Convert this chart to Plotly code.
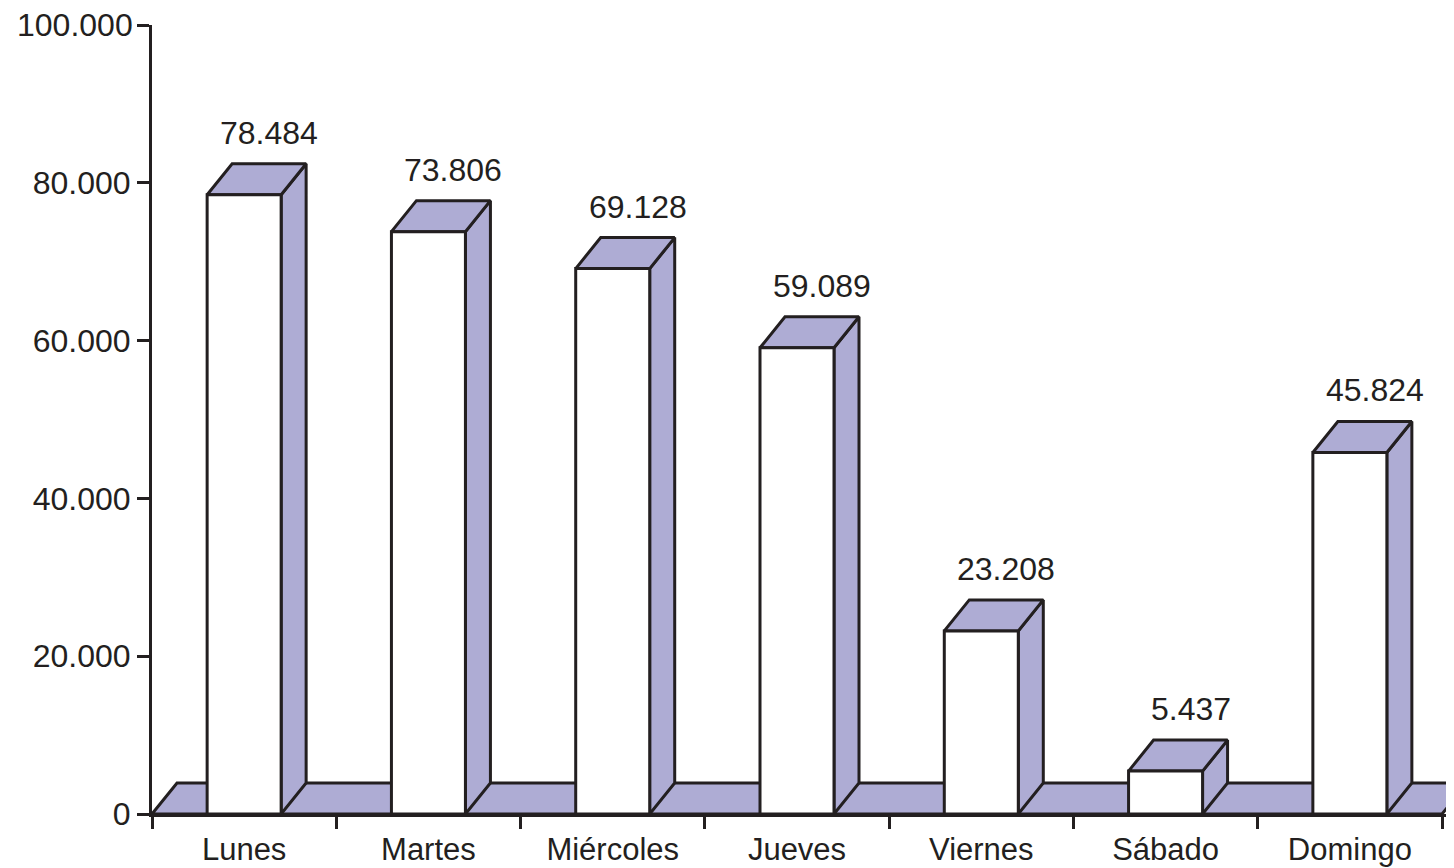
import plotly.graph_objects as go

categories = ["Lunes", "Martes", "Miércoles", "Jueves", "Viernes", "Sábado", "Domingo"]
values = [78484, 73806, 69128, 59089, 23208, 5437, 45824]
value_labels = ["78.484", "73.806", "69.128", "59.089", "23.208", "5.437", "45.824"]
y_tickvals = [0, 20000, 40000, 60000, 80000, 100000]
y_ticktext = ["0", "20.000", "40.000", "60.000", "80.000", "100.000"]

LAV = "#AEACD4"
INK = "#231F20"
FONT = "Liberation Sans, Arial, Helvetica, sans-serif"

# geometry (page has an 8px body margin)
OFF = 8
W, H = 1454 - OFF, 868 - OFF
ml, mr, mt, mb = 152 - OFF, 0, 25 - OFF, 868 - 814
n = len(categories)
px_per_x = (1442 - 152) / n
x_range = [-0.5, -0.5 + (W - ml - mr) / px_per_x]
y_range = [0, 100000]
px_per_y = (H - mt - mb) / (y_range[1] - y_range[0])

bw = 74 / px_per_x          # front face width
dx = 25 / px_per_x          # depth offset x
dy = 31 / px_per_y          # depth offset y

fig = go.Figure()

def poly(xs, ys, fill):
    fig.add_trace(go.Scatter(
        x=xs + [xs[0]], y=ys + [ys[0]], mode="lines", fill="toself",
        fillcolor=fill, line=dict(color=INK, width=3), hoverinfo="skip",
        showlegend=False))

# floor
x0f, x1f = -0.5, n - 0.5
poly([x0f, x0f + dx, x1f + dx, x1f], [0, dy, dy, 0], LAV)

for i, v in enumerate(values):
    a, b = i - bw / 2, i + bw / 2
    poly([b, b + dx, b + dx, b], [0, dy, v + dy, v], LAV)      # side face
    poly([a, a + dx, b + dx, b], [v, v + dy, v + dy, v], LAV)  # top face
    poly([a, a, b, b], [0, v, v, 0], "white")                  # front face
    fig.add_annotation(x=i + dx, y=v + dy, text=value_labels[i], showarrow=False,
                       yanchor="middle", yshift=31,
                       font=dict(family=FONT, size=32, color=INK))

# top tick label (drawn as annotation so it is not hidden at the div edge)
shown_text = [t if tv != y_range[1] else "" for tv, t in zip(y_tickvals, y_ticktext)]
fig.add_annotation(xref="paper", x=0, y=y_tickvals[-1], yref="y",
                   text=y_ticktext[-1], showarrow=False,
                   xanchor="right", yanchor="middle", xshift=-17,
                   font=dict(family=FONT, size=32, color=INK))

fig.update_layout(
    width=W, height=H,
    margin=dict(l=ml, r=mr, t=mt, b=mb, pad=0),
    plot_bgcolor="white", paper_bgcolor="white",
    showlegend=False,
    font=dict(family=FONT, size=32, color=INK),
)
fig.update_xaxes(
    range=x_range, showgrid=False, zeroline=False,
    tickvals=list(range(n)), ticktext=categories, ticks="",
    tickfont=dict(family=FONT, size=31, color=INK),
    ticklabelstandoff=6,
    showline=True, linecolor=INK, linewidth=3,
    minor=dict(tickvals=[k - 0.5 for k in range(n + 1)], ticks="outside",
               ticklen=12, tickwidth=2.5, tickcolor=INK, showgrid=False),
)
fig.update_yaxes(
    range=y_range, showgrid=False, zeroline=False,
    tickvals=y_tickvals, ticktext=shown_text,
    ticks="outside", ticklen=12, tickwidth=2.5, tickcolor=INK,
    tickfont=dict(family=FONT, size=32, color=INK),
    showline=True, linecolor=INK, linewidth=3,
)

fig.write_html("out.html")
